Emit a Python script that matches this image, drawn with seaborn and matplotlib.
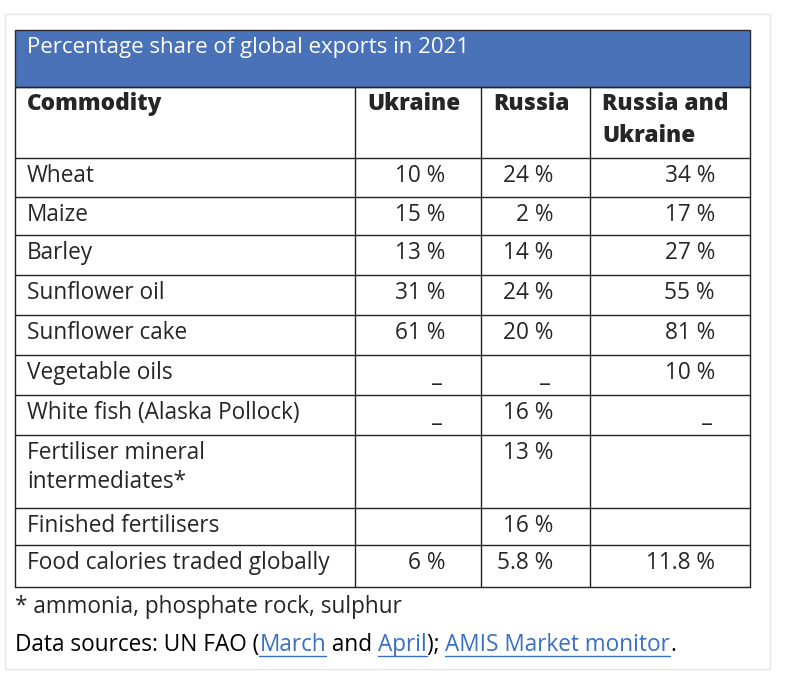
import matplotlib
matplotlib.use("Agg")
import matplotlib.pyplot as plt
import seaborn as sns

sns.set_theme(style="white")
plt.rcParams['font.family'] = ['Open Sans', 'DejaVu Sans']

title = "Percentage share of global exports in 2021"
headers = ["Commodity", "Ukraine", "Russia", "Russia and\nUkraine"]
commodities = ["Wheat", "Maize", "Barley", "Sunflower oil", "Sunflower cake",
               "Vegetable oils", "White fish (Alaska Pollock)",
               "Fertiliser mineral\nintermediates*", "Finished fertilisers",
               "Food calories traded globally"]
ukraine = ["10 %", "15 %", "13 %", "31 %", "61 %", "_", "_", "", "", "6 %"]
russia = ["24 %", "2 %", "14 %", "24 %", "20 %", "_", "16 %", "13 %", "16 %", "5.8 %"]
both = ["34 %", "17 %", "27 %", "55 %", "81 %", "10 %", "_", "", "", "11.8 %"]
footnote = "* ammonia, phosphate rock, sulphur"

W, H = 800, 675
fig = plt.figure(figsize=(8, 6.75), dpi=100)
ax = fig.add_axes([0, 0, 1, 1])
ax.set_xlim(0, W)
ax.set_ylim(H, 0)
ax.axis("off")

# outer faint frame
ax.add_patch(plt.Rectangle((5, 14), 765, 655, fill=False, ec="#e6e6e6", lw=1))

cols = [15, 355, 481, 590, 750]
rows = [87, 158, 197, 235, 275, 315, 355, 395, 435, 508, 545, 587]
fs = 16.3

# blue title bar
ax.add_patch(plt.Rectangle((15, 30), 735, 57, fc="#4a72b8", ec="#2b2b2b", lw=1))
ax.text(27, 47, title, color="white", fontsize=16, va="center", ha="left")

for y in rows:
    ax.plot([15, 750], [y, y], color="#222222", lw=1)
for x in cols:
    ax.plot([x, x], [87, rows[-1]], color="#222222", lw=1)

# header row
hx = [27, 367, 493, 602]
for x, h in zip(hx, headers):
    ax.text(x, 92, h, fontsize=fs, fontweight="heavy", va="top", ha="left",
            linespacing=1.45)

right = [445, 553, 715]
for i, name in enumerate(commodities):
    top = rows[i + 1]
    ax.text(27, top + 6, name, fontsize=fs, va="top", ha="left", linespacing=1.3)
    for x, vals in zip(right, [ukraine, russia, both]):
        v = vals[i]
        if v == "_":
            ax.text(x - 8, top + 8, "_", fontsize=fs, va="top", ha="center")
        elif v:
            ax.text(x, top + 6, v, fontsize=fs, va="top", ha="right")

ax.text(15, 607, footnote, fontsize=fs, va="center", ha="left")

# source line with links
pieces = [("Data sources: UN FAO (", False), ("March", True), (" and ", False),
          ("April", True), ("); ", False), ("AMIS Market monitor", True), (".", False)]
fig.canvas.draw()
r = fig.canvas.get_renderer()
x = 15
inv = ax.transData.inverted()
for txt, link in pieces:
    t = ax.text(x, 645, txt, fontsize=fs, va="center", ha="left",
                color="#3a6fc4" if link else "black")
    bb = t.get_window_extent(r)
    (x0, _), (x1, _) = inv.transform([[bb.x0, bb.y0], [bb.x1, bb.y1]])
    if link:
        ax.plot([x0, x1], [656, 656], color="#3a6fc4", lw=1)
    x = x1

fig.savefig("out.png", dpi=100)
